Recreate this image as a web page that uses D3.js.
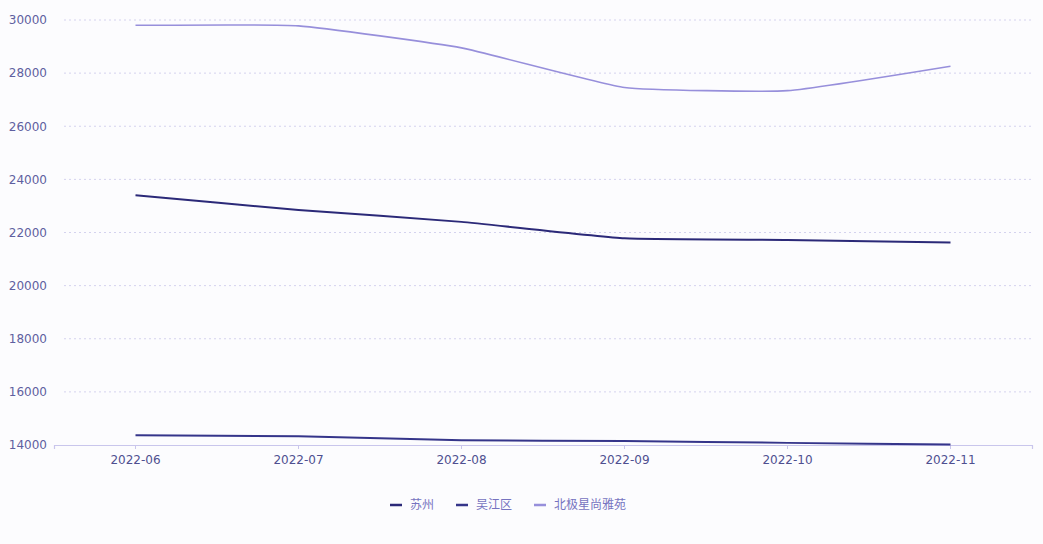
<!DOCTYPE html>
<html>
<head>
<meta charset="utf-8">
<script src="https://cdn.jsdelivr.net/npm/d3@7/dist/d3.min.js"></script>
<style>
html,body{margin:0;padding:0;background:#fcfcfe;}
svg{display:block;font-family:"Noto Sans CJK SC","DejaVu Sans",sans-serif;}
</style>
</head>
<body>
<svg id="chart" width="1043" height="544"></svg>
<script>
const categories = ["2022-06","2022-07","2022-08","2022-09","2022-10","2022-11"];
const seriesNames = ["苏州","吴江区","北极星尚雅苑"];
const suzhou = [23400, 22850, 22400, 21780, 21720, 21620];
const wujiang = [14370, 14330, 14180, 14150, 14080, 14020];
const beijixing = [29800, 29780, 28950, 27460, 27340, 28260];
const yTicks = [14000,16000,18000,20000,22000,24000,26000,28000,30000];
const colors = ["#2b2978","#35358a","#978fdb"];

const svg = d3.select("#chart");
const W = 1043, H = 544;
const margin = {left:54, right:11, top:20, bottom:99};
const x = d3.scaleBand().domain(categories).range([margin.left, W - margin.right]);
const y = d3.scaleLinear().domain([14000, 30000]).range([H - margin.bottom, margin.top]);

// grid
const grid = svg.append("g");
grid.selectAll("line").data(yTicks.filter(d => d !== 14000)).join("line")
  .attr("x1", margin.left + 10).attr("x2", W - margin.right)
  .attr("y1", d => y(d)).attr("y2", d => y(d))
  .attr("stroke", "#d4d2ee").attr("stroke-width", 1).attr("stroke-dasharray", "2,3");

// y axis labels
const yAxis = d3.axisLeft(y).tickValues(yTicks).tickFormat(d3.format("d")).tickSize(0).tickPadding(7);
const yg = svg.append("g").attr("transform", `translate(${margin.left},0)`).call(yAxis);
yg.select(".domain").remove();
yg.selectAll("text").attr("fill", "#5f5fa0").attr("font-size", 12)
  .attr("font-family", "'DejaVu Sans',sans-serif");

// x axis
const xAxis = d3.axisBottom(x).tickSize(4).tickPadding(6);
const xg = svg.append("g").attr("transform", `translate(0,${y(14000)})`).call(xAxis);
xg.select(".domain").attr("stroke", "#c9c6ec").attr("stroke-width", 1.2);
xg.selectAll(".tick line").attr("stroke", "#c9c6ec");
xg.selectAll("text").attr("fill", "#4f4f90").attr("font-size", 12)
  .attr("font-family", "'DejaVu Sans',sans-serif");

// lines
const data = [suzhou, wujiang, beijixing];
const line = d3.line()
  .x((d, i) => x(categories[i]) + x.bandwidth() / 2)
  .y(d => y(d))
  .curve(d3.curveCardinal.tension(0.6));
svg.append("g").selectAll("path").data(data).join("path")
  .attr("d", line)
  .attr("fill", "none")
  .attr("stroke", (d, i) => colors[i])
  .attr("stroke-width", (d, i) => i === 2 ? 1.6 : 2);

// legend
const legend = svg.append("g").attr("transform", "translate(0,505)");
const items = legend.selectAll("g").data(seriesNames).join("g");
const widths = [];
items.each(function(d, i) {
  const g = d3.select(this);
  g.append("line").attr("x1", 0).attr("x2", 12).attr("y1", 0).attr("y2", 0)
    .attr("stroke", colors[i]).attr("stroke-width", 2.5);
  const t = g.append("text").attr("x", 20).attr("y", 0).attr("dy", "0.35em")
    .attr("font-size", 12).attr("fill", "#7673c0").text(d);
  widths.push(20 + t.node().getComputedTextLength());
});
const gap = 22;
const total = d3.sum(widths) + gap * (widths.length - 1);
let start = 508 - total / 2;
items.attr("transform", (d, i) => {
  const tx = start;
  start += widths[i] + gap;
  return `translate(${tx},0)`;
});
</script>
</body>
</html>
